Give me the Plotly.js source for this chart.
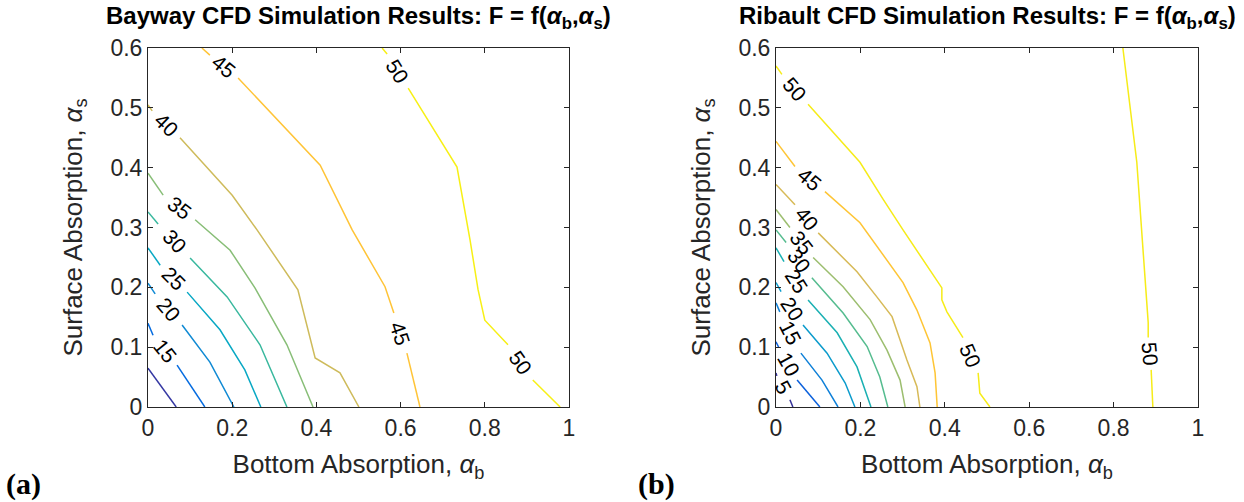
<!DOCTYPE html>
<html>
<head>
<meta charset="utf-8">
<script src="https://cdn.plot.ly/plotly-3.0.1.min.js"></script>
<style>html,body{margin:0;padding:0;background:#fff;}#chart{width:1244px;height:502px;}</style>
</head>
<body>
<div id="chart"></div>
<script>
// ---------- DATA (alpha_b = x, alpha_s = y), null = gap where the contour label sits ----------
const bayLevels = [10, 15, 20, 25, 30, 35, 40, 45, 50];
const bay10B = [0, 0.067];
const bay10S = [0.065, 0];
const bay15B = [0, 0.012, null, 0.069, 0.135];
const bay15S = [0.140, 0.120, null, 0.070, 0];
const bay20B = [0, 0.017, null, 0.081, 0.147, 0.204];
const bay20S = [0.207, 0.189, null, 0.137, 0.075, 0];
const bay25B = [0, 0.029, null, 0.093, 0.171, 0.230, 0.268];
const bay25S = [0.266, 0.237, null, 0.192, 0.129, 0.062, 0];
const bay30B = [0, 0.024, null, 0.100, 0.188, 0.266, 0.330];
const bay30S = [0.326, 0.306, null, 0.249, 0.184, 0.104, 0];
const bay35B = [0, 0.036, null, 0.112, 0.195, 0.254, 0.330, 0.392];
const bay35S = [0.391, 0.354, null, 0.313, 0.262, 0.199, 0.104, 0];
const bay40B = [0, 0.010, null, 0.076, 0.200, 0.259, 0.356, 0.397, 0.456, 0.501];
const bay40S = [0.505, 0.495, null, 0.450, 0.354, 0.296, 0.196, 0.082, 0.057, 0];
const bay45B = [0.128, 0.147, null, 0.214, 0.409, 0.485, 0.563, 0.584, null, 0.615, 0.646];
const bay45S = [0.600, 0.588, null, 0.550, 0.404, 0.296, 0.201, 0.157, null, 0.090, 0];
const bay50B = [0.556, 0.568, null, 0.618, 0.734, 0.765, 0.784, 0.800, 0.855, null, 0.914, 0.979];
const bay50S = [0.600, 0.590, null, 0.533, 0.401, 0.279, 0.196, 0.145, 0.104, null, 0.045, 0];

const ribLevels = [5, 10, 15, 20, 25, 30, 35, 40, 45, 50, 50];
const rib5B = [0, 0.002, null, 0.033, 0.040];
const rib5S = [0.057, 0.052, null, 0.012, 0];
const rib10B = [0, 0.007, null, 0.050, 0.104];
const rib10S = [0.109, 0.099, null, 0.045, 0];
const rib15B = [0, 0.009, null, 0.059, 0.109, 0.147];
const rib15S = [0.174, 0.159, null, 0.090, 0.045, 0];
const rib20B = [0, 0.012, null, 0.064, 0.121, 0.164, 0.187];
const rib20S = [0.208, 0.193, null, 0.137, 0.090, 0.040, 0];
const rib25B = [0, 0.019, null, 0.076, 0.145, 0.192, 0.225];
const rib25S = [0.266, 0.243, null, 0.179, 0.124, 0.067, 0];
const rib30B = [0, 0.024, null, 0.085, 0.159, 0.216, 0.246, 0.265];
const rib30S = [0.296, 0.275, null, 0.216, 0.157, 0.101, 0.050, 0];
const rib35B = [0, 0.033, null, 0.088, 0.159, 0.223, 0.263, 0.294, 0.306];
const rib35S = [0.330, 0.300, null, 0.250, 0.201, 0.146, 0.095, 0.045, 0];
const rib40B = [0, 0.045, null, 0.100, 0.192, 0.239, 0.275, 0.294, 0.310, 0.334, 0.341];
const rib40S = [0.372, 0.338, null, 0.291, 0.226, 0.184, 0.151, 0.112, 0.079, 0.034, 0];
const rib45B = [0, 0.045, null, 0.116, 0.199, 0.301, 0.334, 0.365, 0.377, 0.382];
const rib45S = [0.444, 0.402, null, 0.360, 0.308, 0.208, 0.162, 0.107, 0.057, 0];
const rib50aB = [0, 0.014, null, 0.076, 0.199, 0.254, 0.301, 0.393, 0.393, 0.405, 0.443, null, 0.479, 0.483, 0.507];
const rib50aS = [0.570, 0.556, null, 0.506, 0.409, 0.347, 0.296, 0.199, 0.179, 0.159, 0.116, null, 0.057, 0.023, 0];
const rib50bB = [0.822, 0.855, 0.882, 0.882, null, 0.889, 0.893];
const rib50bS = [0.600, 0.409, 0.141, 0.116, null, 0.062, 0];

const xTicks = [0, 0.2, 0.4, 0.6, 0.8, 1];
const yTicks = [0, 0.1, 0.2, 0.3, 0.4, 0.5, 0.6];

// ---------- STYLE ----------
const W = 1244, H = 502;
const dom1 = [148 / W, 569 / W];
const dom2 = [776 / W, 1198 / W];
const ydom = [(H - 407) / H, (H - 48) / H];
const axisColor = '#262626';
const FONT = 'Liberation Sans, Arial, Helvetica, sans-serif';

const parulaStops = [
  [0, [53, 42, 135]], [3 / 63, [53, 61, 173]], [6 / 63, [32, 83, 212]], [9 / 63, [2, 104, 225]],
  [12 / 63, [13, 117, 220]], [18 / 63, [16, 142, 210]],
  [24 / 63, [6, 167, 198]], [30 / 63, [37, 181, 169]], [36 / 63, [101, 190, 134]], [42 / 63, [165, 190, 107]],
  [48 / 63, [217, 186, 86]], [54 / 63, [255, 195, 55]], [60 / 63, [245, 228, 29]], [1, [249, 251, 14]]
];
function parula(t) {
  t = Math.max(0, Math.min(1, t));
  for (let i = 1; i < parulaStops.length; i++) {
    const [t1, c1] = parulaStops[i];
    const [t0, c0] = parulaStops[i - 1];
    if (t <= t1) {
      const f = (t - t0) / (t1 - t0);
      const c = c0.map((v, k) => Math.round(v + f * (c1[k] - v)));
      return 'rgb(' + c.join(',') + ')';
    }
  }
  return 'rgb(249,251,14)';
}

const traces = [];
const annotations = [];

function addContour(level, bArr, sArr, xa, ya, cmin, cmax, dom) {
  const color = parula((level - cmin) / (cmax - cmin));
  traces.push({
    type: 'scatter', mode: 'lines', x: bArr, y: sArr, xaxis: xa, yaxis: ya,
    line: { color: color, width: 1.5 }, connectgaps: false, hoverinfo: 'skip', showlegend: false
  });
  const pxX = W * (dom[1] - dom[0]) / 1.0;
  const pxY = H * (ydom[1] - ydom[0]) / 0.6;
  for (let i = 1; i < bArr.length - 1; i++) {
    if (bArr[i] === null) {
      const x0 = bArr[i - 1], y0 = sArr[i - 1], x1 = bArr[i + 1], y1 = sArr[i + 1];
      let ang = Math.atan2(-(y1 - y0) * pxY, (x1 - x0) * pxX) * 180 / Math.PI;
      if (ang > 90) ang -= 180;
      if (ang < -90) ang += 180;
      annotations.push({
        x: (x0 + x1) / 2, y: (y0 + y1) / 2, xref: xa, yref: ya, text: String(level),
        showarrow: false, textangle: ang, font: { family: FONT, size: 21, color: '#000' },
        xanchor: 'center', yanchor: 'middle'
      });
    }
  }
}

const bayB = [bay10B, bay15B, bay20B, bay25B, bay30B, bay35B, bay40B, bay45B, bay50B];
const bayS = [bay10S, bay15S, bay20S, bay25S, bay30S, bay35S, bay40S, bay45S, bay50S];
bayLevels.forEach((lv, i) => addContour(lv, bayB[i], bayS[i], 'x', 'y', 8.5, 51, dom1));

const ribB = [rib5B, rib10B, rib15B, rib20B, rib25B, rib30B, rib35B, rib40B, rib45B, rib50aB, rib50bB];
const ribS = [rib5S, rib10S, rib15S, rib20S, rib25S, rib30S, rib35S, rib40S, rib45S, rib50aS, rib50bS];
ribLevels.forEach((lv, i) => addContour(lv, ribB[i], ribS[i], 'x2', 'y2', 4, 51.5, dom2));

function xAxis(dom, anchor) {
  return {
    domain: dom, anchor: anchor, range: [0, 1], tickvals: xTicks, ticktext: xTicks.map(String),
    ticks: 'inside', ticklen: 5, tickcolor: axisColor, tickwidth: 1,
    showline: true, linecolor: axisColor, linewidth: 1, mirror: 'ticks',
    showgrid: false, zeroline: false, fixedrange: true,
    tickfont: { family: FONT, size: 23, color: axisColor },
    title: { text: 'Bottom Absorption, <i>α</i><sub>b</sub>', font: { family: FONT, size: 26, color: axisColor }, standoff: 15 }
  };
}
function yAxis(anchor) {
  return {
    domain: ydom, anchor: anchor, range: [0, 0.6], tickvals: yTicks, ticktext: yTicks.map(String),
    ticks: 'inside', ticklen: 5, tickcolor: axisColor, tickwidth: 1,
    showline: true, linecolor: axisColor, linewidth: 1, mirror: 'ticks',
    showgrid: false, zeroline: false, fixedrange: true,
    tickfont: { family: FONT, size: 23, color: axisColor },
    title: { text: 'Surface Absorption, <i>α</i><sub>s</sub>', font: { family: FONT, size: 26, color: axisColor }, standoff: 20 }
  };
}

annotations.push(
  { xref: 'paper', yref: 'paper', x: (dom1[0] + dom1[1]) / 2, y: (H - 18) / H, xanchor: 'center', yanchor: 'middle', showarrow: false,
    text: '<b>Bayway CFD Simulation Results: F = f(<i>α</i><sub>b</sub>,<i>α</i><sub>s</sub>)</b>', font: { family: FONT, size: 24, color: '#000' } },
  { xref: 'paper', yref: 'paper', x: (dom2[0] + dom2[1]) / 2, y: (H - 18) / H, xanchor: 'center', yanchor: 'middle', showarrow: false,
    text: '<b>Ribault CFD Simulation Results: F = f(<i>α</i><sub>b</sub>,<i>α</i><sub>s</sub>)</b>', font: { family: FONT, size: 24, color: '#000' } },
  { xref: 'paper', yref: 'paper', x: 4 / W, y: (H - 484) / H, xanchor: 'left', yanchor: 'middle', showarrow: false,
    text: '<b>(a)</b>', font: { family: 'Liberation Serif, Times New Roman, serif', size: 30, color: '#000' } },
  { xref: 'paper', yref: 'paper', x: 636 / W, y: (H - 484) / H, xanchor: 'left', yanchor: 'middle', showarrow: false,
    text: '<b>(b)</b>', font: { family: 'Liberation Serif, Times New Roman, serif', size: 30, color: '#000' } }
);

const layout = {
  width: W, height: H, margin: { l: 0, r: 0, t: 0, b: 0 },
  paper_bgcolor: '#fff', plot_bgcolor: '#fff', showlegend: false,
  xaxis: xAxis(dom1, 'y'), yaxis: yAxis('x'),
  xaxis2: xAxis(dom2, 'y2'), yaxis2: yAxis('x2'),
  annotations: annotations
};

Plotly.newPlot('chart', traces, layout, { staticPlot: true, displayModeBar: false });
</script>
</body>
</html>
